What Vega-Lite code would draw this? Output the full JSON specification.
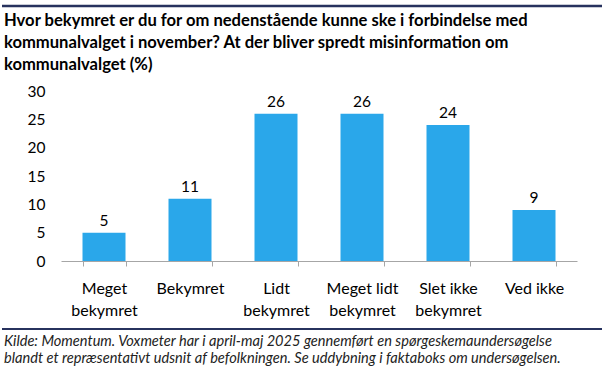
{
  "$schema": "https://vega.github.io/schema/vega-lite/v6.json",
  "padding": {"left": 0, "right": 0, "top": 4, "bottom": 0},
  "background": "white",
  "spacing": 10,
  "bounds": "full",
  "config": {"view": {"stroke": null}, "font": "Lato"},
  "vconcat": [
    {
      "width": 602,
      "height": 1,
      "title": {
        "text": ["Hvor bekymret er du for om nedenstående kunne ske i forbindelse med", "kommunalvalget i november? At der bliver spredt misinformation om", "kommunalvalget (%)"],
        "orient": "bottom",
        "anchor": "start",
        "frame": "group",
        "offset": 6,
        "dx": 2,
        "font": "Lato",
        "fontSize": 16.6,
        "fontWeight": "bold",
        "lineHeight": 22,
        "color": "#000000"
      },
      "data": {"values": [{"rule": "top"}]},
      "mark": {"type": "rule", "color": "#27325E", "strokeWidth": 2.5},
      "encoding": {"y": {"datum": 1, "type": "quantitative", "scale": {"domain": [0, 1]}, "axis": null}}
    },
    {
      "width": 602,
      "height": 170,
      "data": {
        "values": [
          {"category": "Meget bekymret", "pct": 5},
          {"category": "Bekymret", "pct": 11},
          {"category": "Lidt bekymret", "pct": 26},
          {"category": "Meget lidt bekymret", "pct": 26},
          {"category": "Slet ikke bekymret", "pct": 24},
          {"category": "Ved ikke", "pct": 9}
        ]
      },
      "encoding": {
        "x": {
          "field": "category",
          "type": "nominal",
          "sort": null,
          "scale": {"range": [59, 575], "paddingInner": 0.5, "paddingOuter": 0.25},
          "axis": {
            "title": null,
            "labelAngle": 0,
            "labelExpr": "split(replace(datum.label, ' bekymret', '|bekymret'), '|')",
            "tickBand": "extent",
            "domainColor": "#A6A6A6",
            "tickColor": "#A6A6A6",
            "tickSize": 5,
            "labelPadding": 14,
            "labelFont": "Lato",
            "labelFontSize": 16,
            "labelLineHeight": 22,
            "labelColor": "#000000",
            "labelBaseline": "top"
          }
        },
        "y": {
          "field": "pct",
          "type": "quantitative",
          "scale": {"domain": [0, 30], "nice": false},
          "axis": {
            "title": null,
            "values": [0, 5, 10, 15, 20, 25, 30],
            "grid": false,
            "domain": false,
            "ticks": false,
            "tickSize": 0,
            "labelPadding": 0,
            "offset": -43,
            "labelFont": "Lato",
            "labelFontSize": 15.5,
            "labelColor": "#000000"
          }
        }
      },
      "layer": [
        {"mark": {"type": "bar", "color": "#2AA7EA"}},
        {
          "mark": {"type": "text", "baseline": "middle", "dy": -12, "fontSize": 15.5, "color": "#000000", "font": "Lato"},
          "encoding": {"text": {"field": "pct", "type": "quantitative"}}
        }
      ]
    },
    {
      "width": 602,
      "height": 1,
      "title": {
        "text": ["Kilde: Momentum. Voxmeter har i april-maj 2025 gennemført en spørgeskemaundersøgelse", "blandt et repræsentativt udsnit af befolkningen. Se uddybning i faktaboks om undersøgelsen."],
        "orient": "bottom",
        "anchor": "start",
        "frame": "group",
        "offset": 4,
        "dx": 2,
        "font": "Lato",
        "fontSize": 14.6,
        "fontStyle": "italic",
        "fontWeight": "normal",
        "lineHeight": 17,
        "color": "#222222"
      },
      "data": {"values": [{"rule": "footer"}]},
      "mark": {"type": "rule", "color": "#27325E", "strokeWidth": 2},
      "encoding": {"y": {"datum": 1, "type": "quantitative", "scale": {"domain": [0, 1]}, "axis": null}}
    }
  ]
}
